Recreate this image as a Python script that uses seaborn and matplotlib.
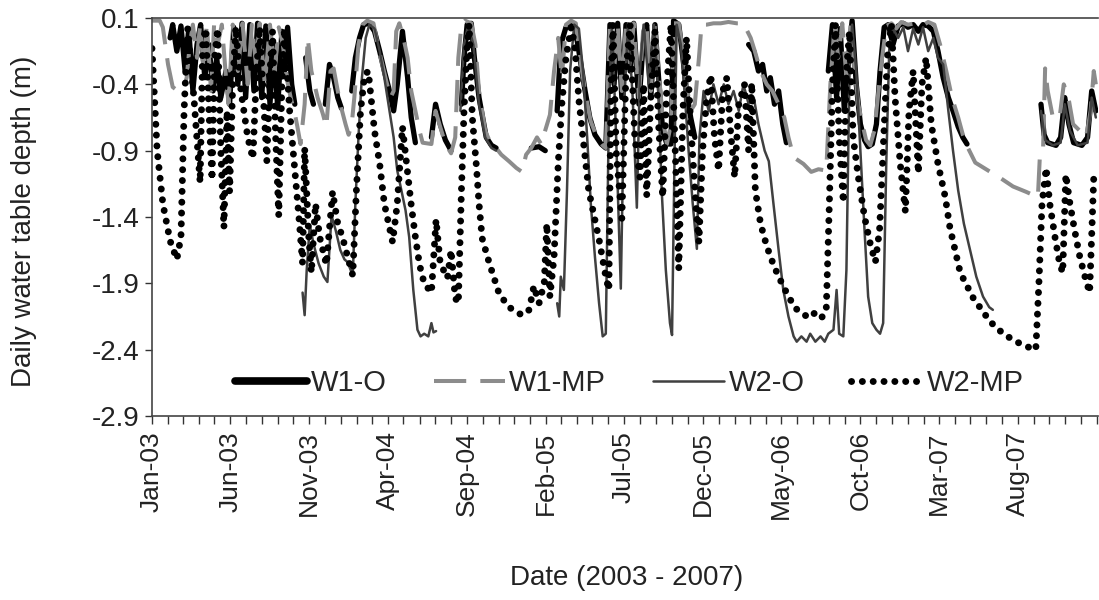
import numpy as np
import pandas as pd
import matplotlib
matplotlib.use('Agg')
import matplotlib.pyplot as plt
from matplotlib.lines import Line2D
import seaborn as sns

start = pd.Timestamp('2003-01-01')
nan = np.nan

# days since 1 Jan 2003 and water table depth (m), nan = gap in record
w1o_day = [35, 40, 48, 56, 64, 71, 79, 87, 94, 102, 110, 118, 125, 133, 143, 150, 158, 166, 174, 181,
           189, 197, 204, 212, 220, 228, 235, 243, 251, 256, 262, 270, 276, 285,
           297, 305, 312, 318,
           335, 343, 351, 359, 366, 372,
           386, 393, 401, 409, 420, 430, 440, 449, 459, 467, 474, 484, 494, 501, 509, 520,
           540, 548, 557, 567, 578, 588,
           598, 603, 609, 617, 623, 632, 646, 656, 665, 700,
           733, 748, 760, 770,
           783, 790, 800, 810, 817, 827, 837, 846, 856, 868, 877, 885, 893, 900, 908, 916, 924, 931,
           941, 949, 956, 964, 972, 979, 987, 995, 1003, 1008, 1018, 1026, 1033, 1041, 1049, 1100,
           1153, 1163, 1172, 1180, 1188, 1195, 1203, 1211, 1219, 1226, 1270,
           1307, 1315, 1323, 1330, 1338, 1346, 1353, 1361, 1369, 1377, 1384, 1392, 1400, 1407, 1415,
           1423, 1432, 1442, 1452, 1461, 1471, 1481, 1490, 1500, 1510, 1519, 1529, 1539, 1548, 1558,
           1567, 1575, 1650,
           1718, 1724, 1731, 1747, 1756, 1764, 1772, 1781, 1797, 1808, 1816, 1824]
w1o_val = [-0.05, 0.05, -0.15, 0.04, -0.30, 0.02, -0.45, -0.10, 0.05, -0.35, -0.10, -0.45, -0.20, -0.50,
           -0.30, -0.55, 0.03, -0.40, 0.06, -0.50, 0.05, -0.45, 0.06, -0.50, 0.04, -0.55, -0.10, -0.58,
           0.00, -0.30, 0.03, -0.40, -0.55, nan,
           -0.20, -0.45, -0.55, nan,
           -0.55, -0.25, -0.35, -0.50, -0.58, nan,
           -0.45, -0.20, -0.05, 0.05, 0.06, 0.00, -0.15, -0.30, -0.45, -0.60, -0.40, 0.00, -0.35, -0.65,
           -0.84, nan,
           -0.80, -0.55, -0.70, -0.82, -0.90, nan,
           -0.55, -0.20, 0.05, 0.06, -0.20, -0.50, -0.80, -0.86, -0.88, nan,
           -0.88, -0.87, -0.90, nan,
           -0.60, -0.10, 0.03, 0.06, 0.04, -0.20, -0.45, -0.65, -0.78, -0.85, -0.88, 0.05, -0.40, 0.06,
           -0.50, 0.05, -0.30, 0.06, -0.55, -0.10, 0.05, -0.50, 0.05, -0.35, -0.75, -0.85, -0.85, 0.08,
           0.05, -0.20, -0.45, -0.65, -0.80, nan,
           -0.10, -0.15, -0.30, -0.25, -0.45, -0.35, -0.55, -0.45, -0.70, -0.84, nan,
           -0.30, 0.05, -0.50, 0.02, -0.60, -0.20, 0.08, -0.40, -0.70, -0.82, -0.87, -0.85, -0.70, -0.30,
           0.03, 0.05, -0.10, 0.04, 0.06, 0.03, 0.05, 0.00, 0.05, 0.04, 0.00, -0.15, -0.35, -0.50, -0.60,
           -0.72, -0.80, -0.85, nan,
           -0.55, -0.78, -0.84, -0.86, -0.80, -0.50, -0.70, -0.84, -0.86, -0.80, -0.45, -0.60]

w1mp_day = [0, 15, 21, 31, 40, 50, 60, 67, 73, 79, 87, 93, 100, 106, 114, 120, 127, 135, 143, 148,
            156, 166, 175, 185, 193, 201, 208, 218, 228, 237, 245, 253, 260, 268, 276, 281, 287, 295,
            301, 308, 320, 330, 337, 345, 351, 359, 366, 374, 380, 386, 391, 399, 407, 416, 428, 436,
            445, 453, 461, 467, 472, 478, 486, 494, 501, 509, 517, 523, 540, 548, 557, 567, 578, 586,
            592, 598, 605, 617, 625, 632, 644, 656, 665, 675, 690, 704, 715, 723, 733, 744, 752, 762,
            769, 777, 785, 792, 800, 810, 819, 829, 839, 848, 860, 871, 877, 885, 893, 900, 908, 916,
            924, 931, 941, 949, 956, 964, 972, 979, 987, 995, 1003, 1008, 1018, 1026, 1033, 1041, 1049,
            1057, 1062, 1072, 1085, 1099, 1114, 1130, 1143, 1157, 1165, 1176, 1188, 1199, 1211, 1222,
            1230, 1240, 1259, 1274, 1288, 1303, 1311, 1319, 1326, 1334, 1342, 1350, 1357, 1365, 1373,
            1380, 1388, 1396, 1404, 1411, 1419, 1429, 1438, 1448, 1461, 1475, 1488, 1500, 1512, 1523,
            1535, 1546, 1558, 1567, 1577, 1591, 1616, 1641, 1664, 1689, 1712, 1716, 1722, 1726, 1731,
            1741, 1754, 1762, 1771, 1780, 1793, 1805, 1814, 1820, 1824]
w1mp_val = [0.08, 0.08, 0.03, -0.25, -0.42, -0.45, -0.45, -0.35, -0.10, 0.05, -0.20, 0.05, -0.30, 0.06,
            -0.45, 0.05, -0.10, 0.05, -0.35, -0.55, 0.05, -0.30, 0.06, -0.40, 0.05, -0.25, 0.06, -0.40,
            0.05, -0.30, 0.03, -0.10, -0.35, -0.50, -0.62, -0.72, -0.85, -0.55, -0.05, -0.30, -0.50,
            -0.62, -0.72, -0.30, -0.28, -0.45, -0.58, -0.70, -0.78, -0.70, -0.50, -0.10, 0.05, 0.08,
            0.06, -0.10, -0.25, -0.38, -0.50, -0.45, 0.00, 0.06, -0.05, -0.20, -0.45, -0.60, -0.75,
            -0.84, -0.85, -0.60, -0.72, -0.85, -0.92, -0.80, -0.20, 0.05, 0.08, 0.06, -0.10, -0.45,
            -0.75, -0.86, -0.88, -0.93, -0.98, -1.03, -1.06, -0.93, -0.88, -0.80, -0.85, -0.72, -0.63,
            -0.30, -0.05, -0.35, 0.05, 0.08, 0.06, -0.25, -0.50, -0.68, -0.80, -0.86, -0.88, 0.06,
            -0.30, 0.06, -0.45, 0.06, -0.25, 0.06, -0.50, 0.00, 0.06, -0.45, 0.06, -0.30, -0.65, -0.85,
            -0.70, 0.06, 0.06, -0.15, -0.40, -0.60, -0.55, -0.20, 0.05, 0.05, 0.06, 0.06, 0.07, 0.06,
            0.06, -0.05, -0.15, -0.30, -0.40, -0.45, -0.55, -0.65, -0.80, -0.95, -1.00, -1.06, -1.04,
            -1.05, -0.40, 0.05, -0.20, 0.06, -0.35, 0.05, -0.25, -0.55, -0.70, -0.82, -0.86, -0.75,
            -0.45, -0.20, 0.04, 0.06, 0.02, 0.07, 0.05, 0.06, 0.04, 0.07, 0.05, -0.10, -0.30, -0.50,
            -0.65, -0.78, -0.88, -0.99, -1.05, -1.11, -1.17, -1.21, -1.25, -0.93, -0.90, -0.28, -0.45,
            -0.65, -0.65, -0.40, -0.50, -0.70, -0.75, -0.80, -0.60, -0.30, -0.40]

w2o_day = [291, 295, 299, 305, 312, 322, 332, 339, 347, 355, 364, 372, 378, 384, 388, 393, 399, 405,
           413, 420, 430, 440, 449, 459, 467, 474, 482, 490, 497, 505, 513, 519, 526, 534, 540, 544,
           549, 570,
           596, 603, 611, 621, 632, 644, 656, 665, 700,
           783, 787, 790, 796, 802, 808, 816, 825, 833, 841, 848, 856, 864, 871, 877, 883, 889, 897,
           906, 912, 920, 929, 937, 943, 950, 960, 970, 979, 985, 993, 1001, 1005, 1010, 1014, 1022,
           1030, 1037, 1045, 1053, 1058, 1066, 1076, 1085, 1095, 1105, 1114, 1124, 1134, 1143, 1153,
           1163, 1172, 1184, 1192, 1201, 1211, 1220, 1230, 1240, 1246, 1255, 1265, 1272, 1282, 1292,
           1300, 1307, 1317, 1323, 1328, 1336, 1342, 1348, 1353, 1361, 1369, 1377, 1384, 1392, 1400,
           1407, 1413, 1419, 1425, 1432, 1442, 1452, 1461, 1471, 1481, 1490, 1500, 1510, 1519, 1529,
           1539, 1548, 1558, 1569, 1581, 1593, 1606, 1618, 1625, 1680,
           1718, 1726, 1741, 1756, 1764, 1774, 1789, 1808, 1816, 1824]
w2o_val = [-1.97, -2.14, -1.80, -1.46, -1.60, -1.75, -1.85, -1.89, -1.39, -1.50, -1.65, -1.72, -1.74,
           -1.80, -1.84, -1.30, -0.80, -0.38, -0.05, 0.05, 0.02, -0.15, -0.35, -0.60, -0.80, -1.05,
           -1.20, -1.35, -1.55, -1.95, -2.25, -2.30, -2.28, -2.30, -2.20, -2.27, -2.26, nan,
           -0.60, -0.10, 0.05, -0.10, -0.55, -0.80, -0.88, -0.90, nan,
           -2.05, -2.15, -1.85, -1.95, -1.20, -0.30, 0.05, 0.02, -0.30, -0.80, -1.30, -1.70, -2.05,
           -2.30, -2.28, -0.60, 0.06, -0.80, -1.94, -0.60, 0.06, -0.50, -1.33, -0.30, 0.05, -0.40,
           0.05, -0.50, -1.20, -1.80, -2.20, -2.29, -0.90, 0.05, -0.10, -0.50, -0.90, -1.30, -1.64,
           -0.80, -0.45, -0.60, -0.40, -0.55, -0.40, -0.55, -0.45, -0.60, -0.40, -0.55, -0.50, -0.70,
           -0.90, -0.98, -1.30, -1.65, -1.95, -2.15, -2.30, -2.34, -2.30, -2.34, -2.28, -2.34, -2.30,
           -2.34, -2.28, -2.25, -1.95, -2.28, -2.30, -1.80, -0.30, 0.05, -0.30, -0.90, -1.50, -2.00,
           -2.20, -2.25, -2.28, -2.20, -1.00, -0.10, 0.02, -0.05, 0.03, -0.15, 0.02, -0.10, 0.03,
           -0.15, -0.05, -0.20, -0.25, -0.60, -0.90, -1.20, -1.45, -1.65, -1.85, -2.00, -2.08, -2.10,
           nan,
           -0.60, -0.82, -0.86, -0.84, -0.55, -0.75, -0.86, -0.84, -0.50, -0.65]

w2mp_day = [0, 10, 21, 35, 48, 56, 62, 69, 81, 93, 98, 104, 110, 116, 121, 127, 133, 139, 145, 150,
            156, 162, 172, 185, 195, 202, 208, 216, 222, 228, 233, 239, 245, 251, 256, 266, 276, 285,
            291, 295, 303, 308, 316, 324, 337, 349, 359, 368, 378, 388, 395, 403, 411, 418, 430, 440,
            449, 465, 474, 484, 492, 501, 509, 517, 526, 540, 549, 557, 571, 578, 586, 592, 598, 603,
            609, 613, 619, 627, 632, 638, 652, 671, 690, 715, 729, 738, 748, 758, 763, 769, 777, 785,
            792, 800, 810, 817, 825, 844, 864, 877, 883, 887, 891, 897, 908, 916, 924, 933, 943, 950,
            956, 964, 972, 979, 987, 995, 1003, 1012, 1018, 1026, 1033, 1041, 1051, 1057, 1064, 1072,
            1080, 1087, 1095, 1103, 1111, 1118, 1126, 1134, 1145, 1153, 1159, 1166, 1176, 1188, 1201,
            1211, 1230, 1244, 1255, 1269, 1282, 1294, 1303, 1309, 1315, 1321, 1328, 1336, 1342, 1348,
            1355, 1365, 1377, 1388, 1398, 1406, 1413, 1421, 1429, 1436, 1446, 1456, 1463, 1471, 1481,
            1488, 1496, 1506, 1519, 1533, 1542, 1562, 1587, 1620, 1645, 1670, 1693, 1708, 1714, 1720,
            1728, 1735, 1745, 1754, 1760, 1766, 1774, 1783, 1793, 1803, 1812, 1820]
w2mp_val = [-0.13, -0.90, -1.30, -1.58, -1.72, -1.55, -0.60, 0.02, -0.50, -1.14, -0.10, 0.02, -0.60,
            -1.12, -0.20, 0.02, -0.90, -1.48, -0.60, -1.21, -0.40, 0.03, -0.45, -0.80, -0.96, -0.30,
            0.03, -0.55, -0.98, -0.30, 0.00, -0.80, -1.39, -0.40, 0.02, -0.60, -1.05, -1.45, -1.75,
            -0.88, -1.55, -1.82, -1.30, -1.55, -1.76, -1.21, -1.45, -1.55, -1.70, -1.84, -1.20, -0.60,
            -0.33, -0.30, -0.75, -1.00, -1.30, -1.59, -1.30, -0.72, -1.00, -1.31, -1.55, -1.76, -1.90,
            -1.97, -1.42, -1.75, -1.86, -1.65, -2.01, -2.05, -1.20, -0.60, -0.10, 0.05, -0.65, -1.02,
            -1.30, -1.56, -1.75, -1.98, -2.08, -2.14, -2.10, -1.92, -2.05, -1.90, -1.45, -2.00, -1.70,
            -1.00, -0.55, -0.20, 0.03, -0.10, -0.52, -1.20, -1.57, -1.85, -1.95, -0.40, 0.05, -0.90,
            -1.41, -0.30, 0.05, -0.80, -1.10, -0.40, -1.24, -0.50, 0.00, -0.70, -1.25, -0.40, 0.05,
            -1.00, -1.79, -0.60, -0.05, -0.70, -1.30, -1.59, -0.90, -0.50, -0.33, -0.80, -1.05, -0.45,
            -0.35, -0.75, -1.10, -0.55, -0.40, -0.90, -0.39, -1.20, -1.45, -1.62, -1.76, -1.85, -2.00,
            -2.09, -2.12, -2.16, -2.12, -2.16, -2.10, -1.30, -0.40, 0.05, -0.80, -1.29, -0.30, 0.00,
            -0.80, -1.10, -1.40, -1.60, -1.74, -1.50, -0.90, -0.20, 0.05, -0.50, -1.00, -1.36, -0.60,
            -0.30, -1.07, -0.40, -0.20, -0.70, -1.00, -1.25, -1.48, -1.82, -2.01, -2.19, -2.28, -2.34,
            -2.38, -2.40, -1.90, -1.30, -1.03, -1.30, -1.55, -1.75, -1.82, -1.08, -1.30, -1.50, -1.70,
            -1.85, -1.97, -1.10]

series_names = ['W1-O', 'W1-MP', 'W2-O', 'W2-MP']
y_ticks = [-2.9, -2.4, -1.9, -1.4, -0.9, -0.4, 0.1]


def to_frame(days, vals):
    df = pd.DataFrame({'day': days, 'depth': vals})
    df['seg'] = df['depth'].isna().cumsum()
    df = df.dropna()
    df['date'] = start + pd.to_timedelta(df['day'], unit='D')
    return df


sns.set_style('ticks')
plt.rcParams['font.family'] = ['Liberation Sans', 'DejaVu Sans']

fig = plt.figure(figsize=(10.99, 6.0), dpi=100)
ax = fig.add_axes([0.1383, 0.3067, 0.8607, 0.6633])

dotted = (0, (0.01, 1.55))
styles = [
    dict(color='black', linewidth=3.8, linestyle='-'),
    dict(color='#8c8c8c', linewidth=2.9, linestyle=(0, (8, 3.5))),
    dict(color='#404040', linewidth=1.8, linestyle='-'),
    dict(color='black', linewidth=5.0, linestyle=dotted, dash_capstyle='round'),
]
frames = [to_frame(w1o_day, w1o_val), to_frame(w1mp_day, w1mp_val),
          to_frame(w2o_day, w2o_val), to_frame(w2mp_day, w2mp_val)]

for df, st in zip(frames, styles):
    sns.lineplot(data=df, x='date', y='depth', units='seg', estimator=None, sort=False,
                 ax=ax, **st)

ax.set_xlim(start, pd.Timestamp('2008-01-03'))
ax.set_ylim(-2.9, 0.1)
ax.set_yticks(y_ticks)
ax.set_yticklabels([f'{t:.1f}' for t in y_ticks])

months = pd.date_range('2003-01-01', '2008-01-01', freq='MS')
ax.set_xticks(months)
ax.set_xticklabels([m.strftime('%b-%y') if i % 5 == 0 and i < 60 else '' for i, m in enumerate(months)],
                   rotation=90)
ax.tick_params(axis='x', length=6, width=1, colors='#333333', labelsize=19, labelcolor='#222222', pad=5)
ax.tick_params(axis='y', length=5, width=1, colors='#333333', labelsize=20, labelcolor='#222222', pad=4)

for s in ['left', 'bottom', 'top']:
    ax.spines[s].set_color('#444444')
    ax.spines[s].set_linewidth(1.2)
ax.spines['right'].set_visible(False)

ax.set_xlabel('Date (2003 - 2007)', fontsize=20, color='#222222')
ax.set_ylabel('Daily water table depth (m)', fontsize=20, color='#222222')
ax.xaxis.set_label_coords(0.502, -0.375)
ax.yaxis.set_label_coords(-0.122, 0.49)

handles = [
    Line2D([], [], color='black', linewidth=5.5),
    Line2D([], [], color='#8c8c8c', linewidth=2.9, linestyle=(0, (8, 3.5))),
    Line2D([], [], color='#404040', linewidth=1.8),
    Line2D([], [], color='black', linewidth=5.0, linestyle=dotted, dash_capstyle='round'),
]
ax.legend(handles, series_names, loc='center', bbox_to_anchor=(0.505, 0.083), ncol=4, frameon=False,
          fontsize=21, handlelength=2.45, handletextpad=0.15, columnspacing=1.6)

fig.savefig('out.png', dpi=100)
